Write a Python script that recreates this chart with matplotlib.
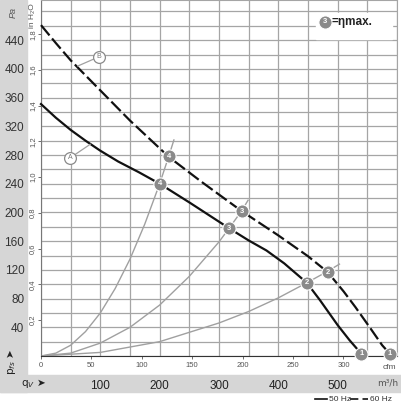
import numpy as np
import matplotlib.pyplot as plt
from matplotlib.patches import Rectangle

plt.rcParams['font.family'] = ['Liberation Sans Narrow', 'Liberation Sans', 'DejaVu Sans']

W, H = 402, 411

# 50 Hz curve (m3/h, Pa)
q_50 = [0, 25, 50, 75, 100, 130, 165, 200, 250, 317, 350, 380, 410, 448, 470, 500, 520, 540]
p_50 = [351, 332, 315, 300, 286, 271, 256, 240, 214, 178, 161, 147, 129, 102, 78, 43, 22, 3]

# 60 Hz curve
q_60 = [0, 25, 50, 75, 100, 150, 216, 270, 338, 400, 450, 483, 510, 530, 554, 575, 588]
p_60 = [461, 436, 412, 391, 370, 328, 277, 243, 202, 168, 139, 117, 90, 68, 40, 15, 3]

# system curves (thin grey)
q_sys4 = [0, 25, 50, 75, 100, 125, 150, 175, 200, 216, 224]
p_sys4 = [0, 4, 15, 34, 60, 94, 135, 184, 240, 280, 301]
q_sys3 = [0, 50, 100, 150, 200, 250, 300, 317, 338, 349]
p_sys3 = [0, 4, 18, 40, 71, 111, 159, 178, 202, 217]
q_sys2 = [0, 100, 200, 300, 350, 400, 448, 483, 503]
p_sys2 = [0, 5, 20, 46, 62, 81, 102, 118, 128]

# operating points
pt_labels = ['1', '2', '3', '4']
pt_q_50 = [540, 448, 317, 200]
pt_p_50 = [3, 102, 178, 240]
pt_q_60 = [588, 483, 338, 216]
pt_p_60 = [3, 117, 202, 278]

pa_ticks = [40, 80, 120, 160, 200, 240, 280, 320, 360, 400, 440]
inh_ticks = [0.2, 0.4, 0.6, 0.8, 1.0, 1.2, 1.4, 1.6, 1.8]
m3h_ticks = [100, 200, 300, 400, 500]
cfm_ticks = [0, 50, 100, 150, 200, 250, 300]


def fx(px):
    return px / W


def fy(py):
    return 1 - py / H


fig = plt.figure(figsize=(W / 100, H / 100), dpi=100)
fig.patches.append(Rectangle((0, fy(392)), fx(27), fy(0) - fy(392), transform=fig.transFigure,
                             color='#d6d6d6', zorder=-5))
fig.patches.append(Rectangle((0, fy(392)), 1, fy(375) - fy(392), transform=fig.transFigure,
                             color='#d6d6d6', zorder=-5))

ax = fig.add_axes([fx(41), fy(356), fx(397) - fx(41), fy(0) - fy(356)])
ax.set_xlim(0, 600)
ax.set_ylim(0, 496)

gridc = '#a5a5a5'
ax.set_xticks(np.arange(0, 601, 50), minor=True)
ax.set_yticks(np.arange(0, 497, 20), minor=True)
ax.grid(which='both', color=gridc, lw=0.9)
ax.set_axisbelow(True)
ax.tick_params(which='minor', length=0)

ax.set_yticks(pa_ticks, labels=[str(v) for v in pa_ticks])
ax.tick_params(axis='y', length=0, pad=12, labelsize=8.5, labelcolor='#333333')
ax.set_xticks(m3h_ticks, labels=[str(v) for v in m3h_ticks])
ax.tick_params(axis='x', length=0, pad=17, labelsize=8.5, labelcolor='#222222')

for s in ['top', 'right']:
    ax.spines[s].set_color(gridc)
ax.spines['left'].set_color('#777777')
ax.spines['bottom'].set_color('#333333')

sec_y = ax.secondary_yaxis('left', functions=(lambda p: p / 249.09, lambda h: h * 249.09))
sec_y.set_yticks(inh_ticks, labels=[('%.1f' % v).replace('.', ',') for v in inh_ticks])
sec_y.tick_params(length=2.5, width=0.6, pad=1, labelsize=5.5, labelrotation=90, colors='#555555')
sec_y.spines['left'].set_visible(False)
for t in sec_y.get_yticklabels():
    t.set_va('center')

sec_x = ax.secondary_xaxis('bottom', functions=(lambda q: q / 1.699, lambda c: c * 1.699))
sec_x.set_xticks(cfm_ticks, labels=[str(v) for v in cfm_ticks])
sec_x.tick_params(length=2.5, width=0.6, pad=1.5, labelsize=5.5, colors='#555555')
sec_x.spines['bottom'].set_visible(False)

# system curves
for qq, pp in [(q_sys4, p_sys4), (q_sys3, p_sys3), (q_sys2, p_sys2)]:
    ax.plot(qq, pp, color='#a0a0a0', lw=1, zorder=2)

ax.plot(q_50, p_50, color='#111111', lw=1.6, zorder=3, clip_on=False)
ax.plot(q_60, p_60, color='#111111', lw=1.6, dashes=(6, 1.8), zorder=3, clip_on=False)

for lab, q1, p1, q2, p2 in zip(pt_labels, pt_q_50, pt_p_50, pt_q_60, pt_p_60):
    for q, p in [(q1, p1), (q2, p2)]:
        ax.plot(q, p, 'o', ms=9.5, mfc='#8a8a8a', mec='white', mew=0.8, zorder=5, clip_on=False)
        ax.text(q, p, lab, ha='center', va='center', fontsize=5.5, color='white',
                fontweight='bold', zorder=6)

# curve tags A / B
for tag, tq, tp, lq, lp in [('A', 49, 276, 83, 295), ('B', 98, 417, 62, 404)]:
    ax.plot([tq, lq], [tp, lp], color='#a0a0a0', lw=0.9, zorder=4)
    ax.plot(tq, tp, 'o', ms=8.5, mfc='white', mec='#8a8a8a', mew=0.9, zorder=5)
    ax.text(tq, tp, tag, ha='center', va='center', fontsize=5, color='#777777', zorder=6)

# eta max legend
ax.add_patch(Rectangle((463, 442), 128, 36, color='white', zorder=1.5))
ax.plot(478, 466, 'o', ms=9.5, mfc='#8a8a8a', mec='white', mew=0.8, zorder=5)
ax.text(478, 466, '3', ha='center', va='center', fontsize=5.5, color='white',
        fontweight='bold', zorder=6)
ax.text(489, 466, '=ηmax.', ha='left', va='center', fontsize=8.5, color='#222222',
        fontweight='bold', zorder=6)

# outside texts
fig.text(fx(13), fy(12), 'Pa', rotation=90, ha='center', va='center', fontsize=6.5,
         color='#555555', style='italic')
fig.text(fx(33), fy(16), 'in H₂O', rotation=90, ha='center', va='center', fontsize=6,
         color='#555555')
fig.text(fx(12), fy(362), 'p$_{fs}$ ➤', rotation=90, ha='center', va='center', fontsize=7.5,
         color='#222222', family=['DejaVu Sans'])
fig.text(fx(34), fy(383), 'q$_V$ ➤', ha='center', va='center', fontsize=7.5,
         color='#222222', family=['DejaVu Sans'])
fig.text(fx(389), fy(367), 'cfm', ha='center', va='center', fontsize=6, color='#555555')
fig.text(fx(388), fy(383), 'm³/h', ha='center', va='center', fontsize=6.5, color='#555555',
         family=['DejaVu Sans'])

# 50/60 Hz legend
fig.lines.append(plt.Line2D([fx(315), fx(327)], [fy(399), fy(399)], transform=fig.transFigure,
                            color='#111111', lw=1.2))
fig.text(fx(329), fy(399), '50 Hz', ha='left', va='center', fontsize=6, color='#333333')
fig.lines.append(plt.Line2D([fx(350), fx(368)], [fy(399), fy(399)], transform=fig.transFigure,
                            color='#111111', lw=1.2, dashes=(5, 2.5)))
fig.text(fx(370), fy(399), '60 Hz', ha='left', va='center', fontsize=6, color='#333333')

fig.savefig('out.png', dpi=100)
